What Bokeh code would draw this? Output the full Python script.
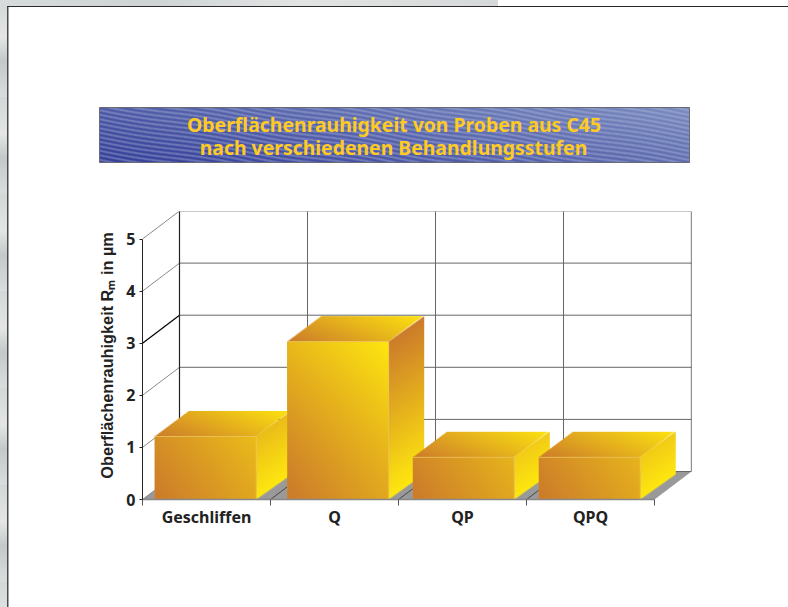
import numpy as np
from bokeh.core.properties import value
from bokeh.embed import file_html
from bokeh.layouts import column
from bokeh.models import FixedTicker, LinearAxis, Range1d
from bokeh.plotting import figure
from bokeh.resources import INLINE

# ---- data
categories = ["Geschliffen", "Q", "QP", "QPQ"]
roughness = [1.21, 3.03, 0.81, 0.81]
y_ticks = [0, 1, 2, 3, 4, 5]
y_label = "Oberflächenrauhigkeit Rₘ in µm"
title_lines = ["Oberflächenrauhigkeit von Proben aus C45",
               "nach verschiedenen Behandlungsstufen"]

# ---- geometry / style
bar_centres = [0.492, 1.527, 2.508, 3.492]
BAR_W = 0.793
XU, YU = 128.0, 52.1          # px per category, px per micrometre
WALL_DX, WALL_DY = 37 / XU, 28 / YU
BAR_DX, BAR_DY = 35.5 / XU, 25.5 / YU
X_MAX, Y_MAX = 549 / XU, 288 / YU
C0 = np.array([204, 123, 43.0])
C1 = np.array([255, 232, 15.0])
FONT = "Noto Sans"


def ramp(t):
    t = np.clip(t, 0, 1)[..., None]
    return C0 + (C1 - C0) * t


def face(p, origin, ea, eb, shade):
    """Shaded parallelogram, origin + u*ea + v*eb, u and v in 0..1, in data units."""
    xs = [origin[0], origin[0] + ea[0], origin[0] + eb[0], origin[0] + ea[0] + eb[0]]
    ys = [origin[1], origin[1] + ea[1], origin[1] + eb[1], origin[1] + ea[1] + eb[1]]
    x0, x1, y0, y1 = min(xs), max(xs), min(ys), max(ys)
    w = max(int(round((x1 - x0) * XU)), 1)
    h = max(int(round((y1 - y0) * YU)), 1)
    ss = 3
    gx = x0 + (np.arange(w * ss) + .5) / (w * ss) * (x1 - x0)
    gy = y0 + (np.arange(h * ss) + .5) / (h * ss) * (y1 - y0)
    X, Y = np.meshgrid(gx - origin[0], gy - origin[1])
    det = ea[0] * eb[1] - ea[1] * eb[0]
    u = (X * eb[1] - Y * eb[0]) / det
    v = (Y * ea[0] - X * ea[1]) / det
    inside = (u >= 0) & (u <= 1) & (v >= 0) & (v <= 1)
    col = ramp(shade(np.clip(u, 0, 1), np.clip(v, 0, 1)))
    col = col.reshape(h, ss, w, ss, 3).mean(axis=(1, 3))
    alpha = inside.reshape(h, ss, w, ss).mean(axis=(1, 3))
    img = np.zeros((h, w), dtype=np.uint32)
    view = img.view(np.uint8).reshape(h, w, 4)
    view[..., :3] = col.astype(np.uint8)
    view[..., 3] = (alpha * 255).astype(np.uint8)
    p.image_rgba(image=[img], x=x0, y=y0, dw=x1 - x0, dh=y1 - y0)


# ---- header figure with the banner
HEAD_H = 190
head = figure(width=788, height=HEAD_H, output_backend="svg", toolbar_location=None,
              x_range=Range1d(0, 788), y_range=Range1d(0, HEAD_H),
              min_border=0, outline_line_color=None,
              background_fill_color=None, border_fill_color=None)
head.axis.visible = False
head.grid.visible = False

bx0, bx1, by0, by1 = 99, 689, HEAD_H - 162, HEAD_H - 107
bw, bh = bx1 - bx0, by1 - by0
PX, PY = np.meshgrid(np.arange(bw), np.arange(bh))
tb = (PX / bw * .62 + PY / bh * .38)[..., None]
base = np.array([52, 62, 152.0]) + (np.array([124, 140, 192.0]) - np.array([52, 62, 152.0])) * tb
wave = (PY + .16 * PX + 1.0 * np.sin(PX / 23.0)) % 4.5
stripe = np.clip(1 - np.abs(wave - 2.2) / 1.3, 0, 1)[..., None]
banner_rgb = base + (np.array([190, 200, 228.0]) - base) * stripe * .55
banner = np.zeros((bh, bw), dtype=np.uint32)
bv = banner.view(np.uint8).reshape(bh, bw, 4)
bv[..., :3] = banner_rgb.astype(np.uint8)
bv[..., 3] = 255
head.image_rgba(image=[banner], x=bx0, y=by0, dw=bw, dh=bh)
head.quad(left=[bx0], right=[bx1], bottom=[by0], top=[by1], fill_color=None,
          line_color="#6a6a74", line_width=1)
head.text(x=[393.5, 393], y=[HEAD_H - 124, HEAD_H - 147], text=title_lines,
          text_color="#FFCB22", text_font=value(FONT), text_font_style="bold",
          text_font_size="19.4px", text_align="center", text_baseline="middle")

# ---- chart figure
p = figure(width=788, height=607 - HEAD_H, output_backend="svg", toolbar_location=None,
           x_range=Range1d(0, X_MAX), y_range=Range1d(0, Y_MAX),
           min_border_left=142, min_border_right=97, min_border_top=21, min_border_bottom=108,
           outline_line_color=None, x_axis_type=None, y_axis_type=None,
           background_fill_color=None, border_fill_color=None)
p.grid.visible = False

# floor
p.patch([0, 4, 4 + WALL_DX, WALL_DX], [0, 0, WALL_DY, WALL_DY], fill_color="#999999", line_color=None)
# back wall and left wall
for t in y_ticks:
    p.segment(x0=[WALL_DX], y0=[t + WALL_DY], x1=[4 + WALL_DX], y1=[t + WALL_DY],
              line_color="#222222" if t == 5 else "#666666", line_width=1)
    p.segment(x0=[0], y0=[t], x1=[WALL_DX], y1=[t + WALL_DY],
              line_color="#000000" if t == 3 else "#8a8a8a", line_width=1.2 if t == 3 else 1)
for c in range(1, 4):
    p.segment(x0=[c + WALL_DX], y0=[WALL_DY], x1=[c + WALL_DX], y1=[5 + WALL_DY],
              line_color="#666666", line_width=1)
    p.segment(x0=[c], y0=[0], x1=[c + WALL_DX], y1=[WALL_DY], line_color="#333333", line_width=.8)
p.segment(x0=[WALL_DX, 4 + WALL_DX], y0=[WALL_DY, WALL_DY], x1=[WALL_DX, 4 + WALL_DX],
          y1=[5 + WALL_DY, 5 + WALL_DY], line_color="#222222", line_width=1.2)

# bars
p.vbar(x=bar_centres, top=roughness, width=BAR_W, bottom=0, fill_color="#E0A52B", line_color=None)
for cx, v in zip(bar_centres, roughness):
    x0, x1 = cx - BAR_W / 2, cx + BAR_W / 2
    face(p, (x0, v), (BAR_W, 0), (BAR_DX, BAR_DY), lambda a, b: (a + b) / 2 * .98)
    face(p, (x1, 0), (BAR_DX, BAR_DY), (0, v), lambda a, b: 1 - b * v / 3.05)
    face(p, (x0, 0), (BAR_W, 0), (0, v), lambda a, b: .42 * a + .58 * (b * v / 3.03) ** 1.2)
    p.segment(x0=[x0, x1], y0=[v, 0], x1=[x1, x1], y1=[v, v], line_color="#EBC45A",
              line_width=1, line_alpha=.8)

# axes
yax = LinearAxis(ticker=FixedTicker(ticks=y_ticks), bounds=(0, 5), axis_line_color="#222222",
                 major_tick_line_color="#222222", major_tick_out=3, major_tick_in=0,
                 minor_tick_out=0, minor_tick_in=0, major_label_standoff=4,
                 major_label_text_font=FONT, major_label_text_font_style="bold",
                 major_label_text_font_size="16px", major_label_text_color="#222222",
                 axis_label=y_label, axis_label_text_font="Liberation Sans",
                 axis_label_text_font_style="bold", axis_label_text_font_size="16.3px",
                 axis_label_text_color="#222222", axis_label_standoff=7)
p.add_layout(yax, "left")
xax = LinearAxis(ticker=FixedTicker(ticks=[i + .5 for i in range(len(categories))],
                                    minor_ticks=list(range(len(categories) + 1))),
                 bounds=(0, 4), axis_line_color="#888888", axis_line_width=1.5,
                 major_tick_out=0, major_tick_in=0, minor_tick_out=6, minor_tick_in=0,
                 minor_tick_line_color="#555555", major_label_standoff=0,
                 major_label_overrides={i + .5: c for i, c in enumerate(categories)},
                 major_label_orientation="horizontal",
                 major_label_text_font=FONT, major_label_text_font_style="bold",
                 major_label_text_font_size="16px", major_label_text_color="#222222")
p.add_layout(xax, "below")

page_css = {
    "margin": "0",
    "background": ("linear-gradient(#2a2a2a,#2a2a2a) 7px 6px/781px 1px no-repeat,"
                   "linear-gradient(#4a4a4a,#4a4a4a) 7px 6px/1.5px 601px no-repeat,"
                   "linear-gradient(90deg,#d8dbdb,#cfd3d3 30%,#e2e4e4 60%,#d6d9d9) 0 0/498px 6px no-repeat,"
                   "repeating-linear-gradient(#d4d7d7 0,#e4e6e6 37px,#c4c8c8 61px,#dadddd 97px) 0 0/7px 607px no-repeat,"
                   "#ffffff"),
}
page = column(column(head), p, spacing=0, styles=page_css)
open("out.html", "w").write(file_html(page, INLINE))
